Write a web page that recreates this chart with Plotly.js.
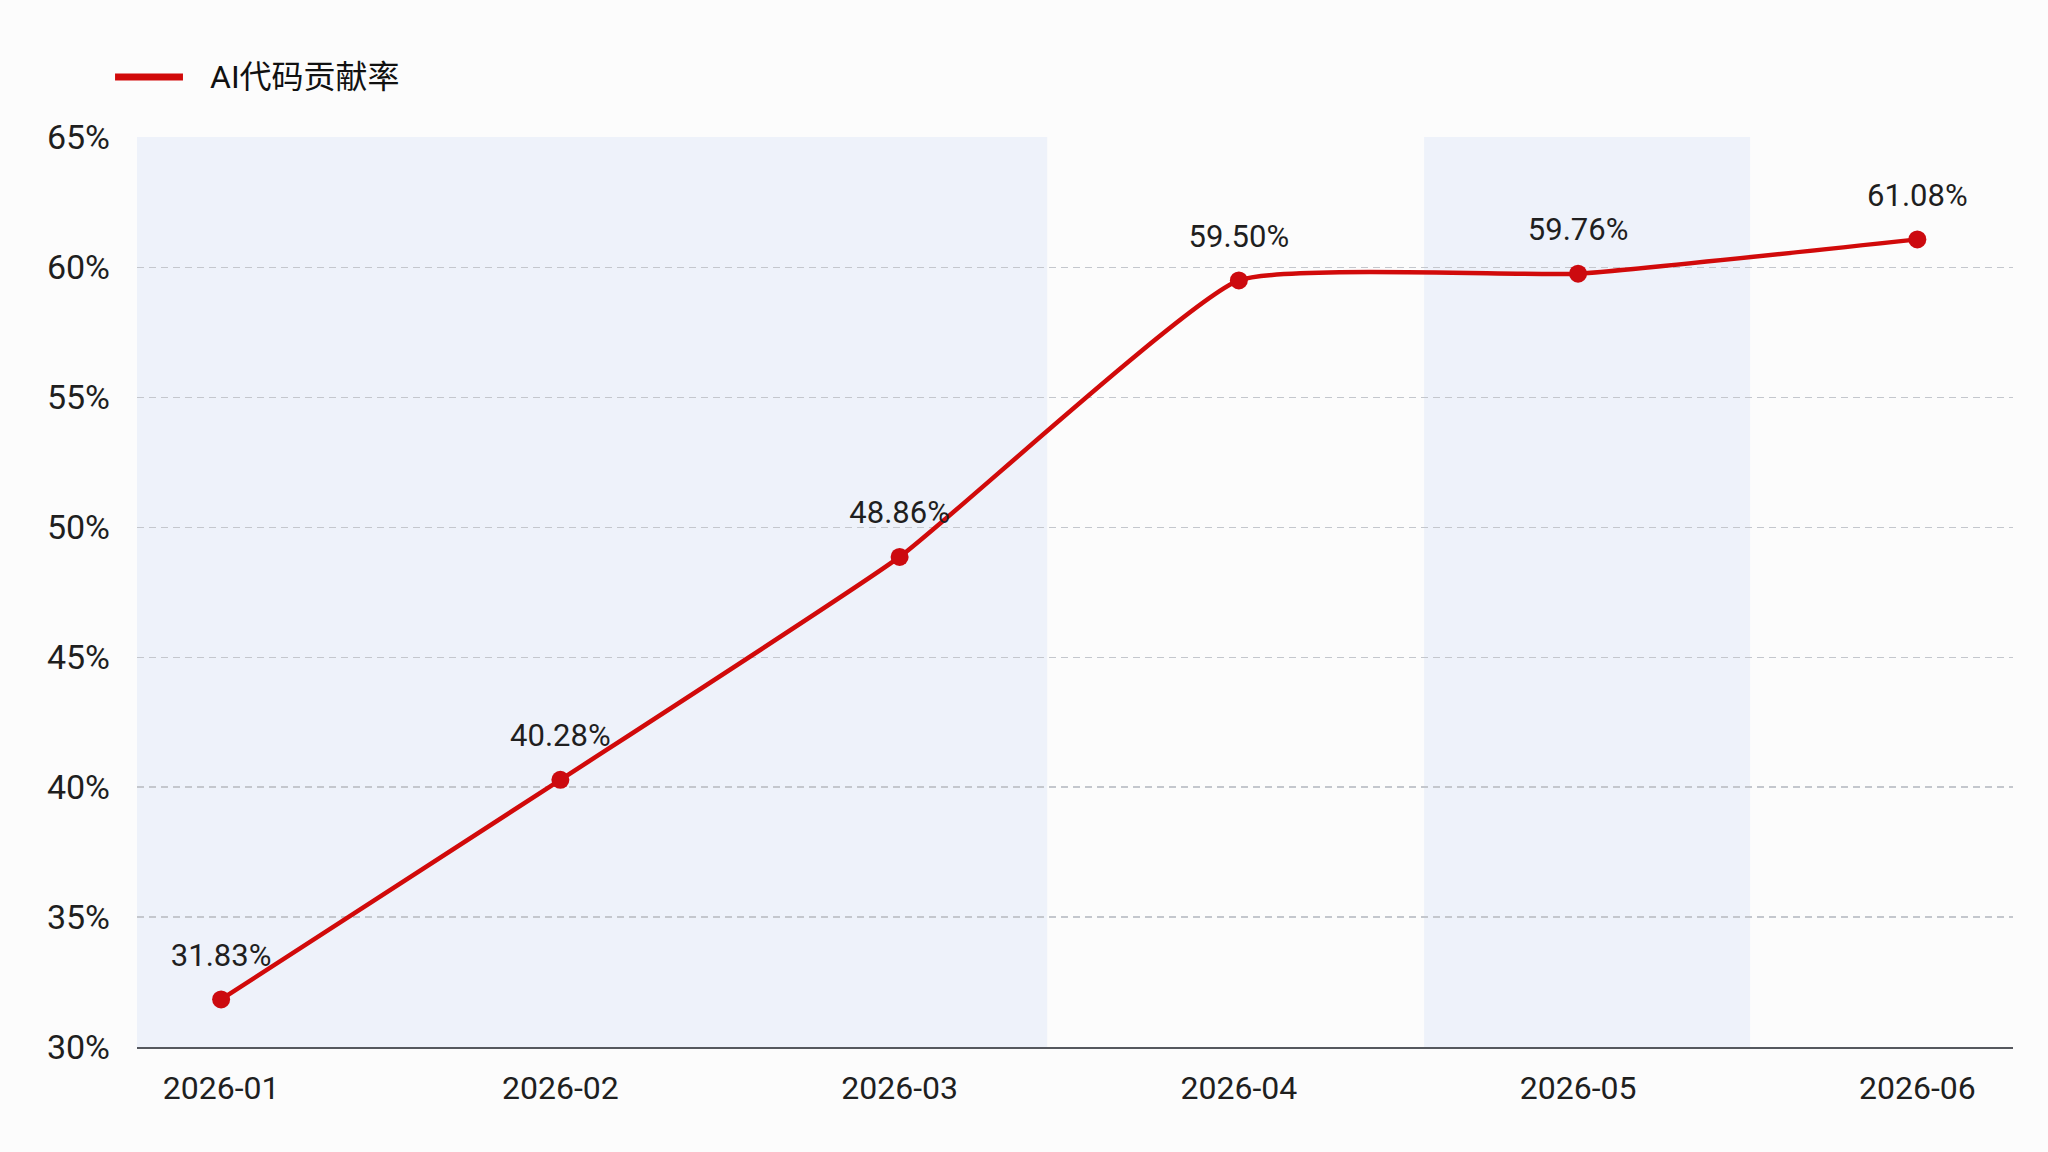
<!DOCTYPE html>
<html>
<head>
<meta charset="utf-8">
<script src="https://cdn.plot.ly/plotly-3.0.1.min.js"></script>
<style>
  html, body { margin: 0; padding: 0; background: #fcfcfc; }
  #chart { width: 2048px; height: 1152px; }
</style>
</head>
<body>
<div id="chart"></div>
<script>
// data
const months = ['2026-01', '2026-02', '2026-03', '2026-04', '2026-05', '2026-06'];
const aiRate = [31.83, 40.28, 48.86, 59.50, 59.76, 61.08];
const seriesName = 'AI代码贡献率';
const yTicks = [30, 35, 40, 45, 50, 55, 60, 65];

// shaded background bands (category index units)
const bandStarts = [-0.248, 3.546];
const bandEnds = [2.435, 4.507];

const RED = '#d10a0a';
const FONT = 'Roboto, "Noto Sans CJK SC", sans-serif';

const rateLine = {
    x: months,
    y: aiRate,
    name: seriesName,
    type: 'scatter',
    mode: 'lines+markers',
    line: {color: RED, width: 4.5, shape: 'spline', smoothing: 0.4},
    marker: {color: '#cc0a0f', size: 18},
    cliponaxis: false,
    showlegend: false,
    hoverinfo: 'skip',
};

// value labels; the invisible marker only pushes the text a bit higher
const rateLabels = {
    x: months,
    y: aiRate,
    type: 'scatter',
    mode: 'markers+text',
    marker: {size: 40, opacity: 0},
    texttemplate: '%{y:.2f}%',
    textposition: 'top center',
    textfont: {family: FONT, size: 31, color: '#1f1f1f'},
    cliponaxis: false,
    showlegend: false,
    hoverinfo: 'skip',
};

const shapes = bandStarts.map((x0, i) => ({
    type: 'rect',
    xref: 'x',
    yref: 'paper',
    x0: x0,
    x1: bandEnds[i],
    y0: 0,
    y1: 1,
    fillcolor: '#eef2fa',
    line: {width: 0},
    layer: 'below',
}));

// legend drawn by hand so the swatch can be longer and thicker
shapes.push({
    type: 'line',
    xref: 'paper',
    yref: 'paper',
    x0: -0.0117,
    x1: 0.0245,
    y0: 1.066,
    y1: 1.066,
    line: {color: RED, width: 7},
});

const layout = {
    width: 2048,
    height: 1152,
    showlegend: false,
    paper_bgcolor: '#fcfcfc',
    plot_bgcolor: '#fcfcfc',
    margin: {l: 137, r: 35, t: 137, b: 105},
    font: {family: FONT, color: '#1f1f1f'},
    xaxis: {
        type: 'category',
        categoryorder: 'array',
        categoryarray: months,
        range: [-0.248, 5.282],
        showgrid: false,
        zeroline: false,
        showline: true,
        linecolor: '#55585e',
        linewidth: 1.5,
        ticks: '',
        ticklabelstandoff: 12,
        tickfont: {family: FONT, size: 32, color: '#1f1f1f'},
        fixedrange: true,
    },
    yaxis: {
        range: [30, 65.02],
        tickvals: yTicks,
        ticktext: yTicks.map(v => v + '%'),
        showgrid: true,
        gridcolor: '#c4c7cd',
        gridwidth: 1.4,
        griddash: '7px,5px',
        zeroline: false,
        showline: false,
        ticks: '',
        ticklabelstandoff: 26,
        tickfont: {family: FONT, size: 34, color: '#1f1f1f'},
        fixedrange: true,
    },
    shapes: shapes,
    annotations: [{
        xref: 'paper',
        yref: 'paper',
        x: 0.0378,
        y: 1.066,
        xanchor: 'left',
        yanchor: 'middle',
        showarrow: false,
        text: seriesName,
        font: {family: FONT, size: 32, color: '#111111'},
    }],
    hovermode: false,
};

Plotly.newPlot('chart', [rateLine, rateLabels], layout, {displayModeBar: false, staticPlot: true});
</script>
</body>
</html>
